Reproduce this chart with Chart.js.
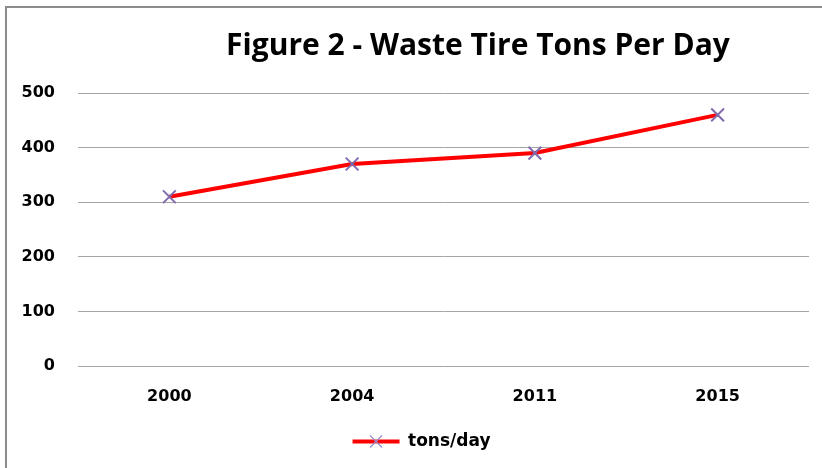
<!DOCTYPE html>
<html>
<head>
<meta charset="utf-8">
<script src="https://cdn.jsdelivr.net/npm/chart.js@4"></script>
<style>
  html, body { margin: 0; padding: 0; background: #fff; }
  #wrap { width: 822px; height: 468px; }
</style>
</head>
<body>
<div id="wrap"><canvas id="tireChart" width="822" height="468"></canvas></div>
<script>
const years = ["2000", "2004", "2011", "2015"];
const tonsPerDay = [310, 370, 390, 460];
const yTicks = [0, 100, 200, 300, 400, 500];
const chartTitle = "Figure 2 - Waste Tire Tons Per Day";

const tickFont = { family: "DejaVu Sans", weight: "bold", size: 16 };

// grey frame round the chart, like the spreadsheet chart border
const framePlugin = {
  id: "frame",
  beforeDraw(chart) {
    const ctx = chart.ctx;
    ctx.save();
    ctx.fillStyle = "#fff";
    ctx.fillRect(0, 0, chart.width, chart.height);
    ctx.strokeStyle = "#8c8c8c";
    ctx.lineWidth = 2;
    ctx.strokeRect(6, 7, chart.width + 20, chart.height + 20);
    ctx.restore();
  }
};

// title sits right of centre in the original, so draw it by hand
const titlePlugin = {
  id: "offTitle",
  afterDraw(chart) {
    const ctx = chart.ctx;
    ctx.save();
    ctx.font = "bold 30px 'Open Sans'";
    ctx.fillStyle = "#000";
    ctx.textAlign = "center";
    ctx.textBaseline = "middle";
    ctx.fillText(chartTitle, 478, 46);
    ctx.restore();
  }
};

// nudge the legend right a little and put the x marker on its line
const legendShift = 17;
const legendCross = {
  id: "legendCross",
  afterUpdate(chart) {
    const lg = chart.legend;
    if (!lg) return;
    lg.left += legendShift;
    lg.right += legendShift;
  },
  afterDraw(chart) {
    const lg = chart.legend;
    if (!lg || !lg.legendHitBoxes.length) return;
    const box = lg.legendHitBoxes[0];
    const bw = lg.options.labels.boxWidth;
    const cx = box.left + legendShift + bw / 2;
    const cy = box.top + box.height / 2;
    const ctx = chart.ctx;
    ctx.save();
    ctx.strokeStyle = "#9b8cc8";
    ctx.lineWidth = 1.2;
    ctx.beginPath();
    ctx.moveTo(cx - 6, cy - 6); ctx.lineTo(cx + 6, cy + 6);
    ctx.moveTo(cx + 6, cy - 6); ctx.lineTo(cx - 6, cy + 6);
    ctx.stroke();
    ctx.restore();
  }
};

new Chart(document.getElementById("tireChart"), {
  type: "line",
  data: {
    labels: years,
    datasets: [{
      label: "tons/day",
      data: tonsPerDay,
      borderColor: "#ff0000",
      backgroundColor: "#ff0000",
      borderWidth: 4,
      tension: 0,
      pointStyle: "crossRot",
      pointRadius: 9,
      pointBorderWidth: 2,
      pointBorderColor: "#7f6aae",
      pointHoverRadius: 9
    }]
  },
  options: {
    responsive: false,
    animation: false,
    layout: { padding: { left: 0, right: 13, top: 93, bottom: 8 } },
    plugins: {
      title: { display: false },
      legend: {
        position: "bottom",
        labels: {
          color: "#000",
          font: { family: "DejaVu Sans", weight: "bold", size: 17 },
          boxWidth: 47,
          boxHeight: 4,
          padding: 10,
          generateLabels: (chart) => [{
            text: "tons/day",
            fillStyle: "#ff0000",
            strokeStyle: "#ff0000",
            lineWidth: 0,
            datasetIndex: 0
          }]
        }
      },
      tooltip: { enabled: false }
    },
    scales: {
      x: {
        offset: true,
        grid: { display: false },
        border: { display: false },
        ticks: { color: "#000", font: tickFont, padding: 13 },
        afterFit: (s) => { s.height = 57; }
      },
      y: {
        min: 0,
        max: 500,
        afterBuildTicks: (s) => { s.ticks = yTicks.map(v => ({ value: v })); },
        grid: { color: "#a6a6a6", lineWidth: 1, drawTicks: false },
        border: { display: false },
        ticks: { color: "#000", font: tickFont, padding: 23 },
        afterFit: (s) => { s.width = 78; }
      }
    }
  },
  plugins: [framePlugin, titlePlugin, legendCross]
});
</script>
</body>
</html>
